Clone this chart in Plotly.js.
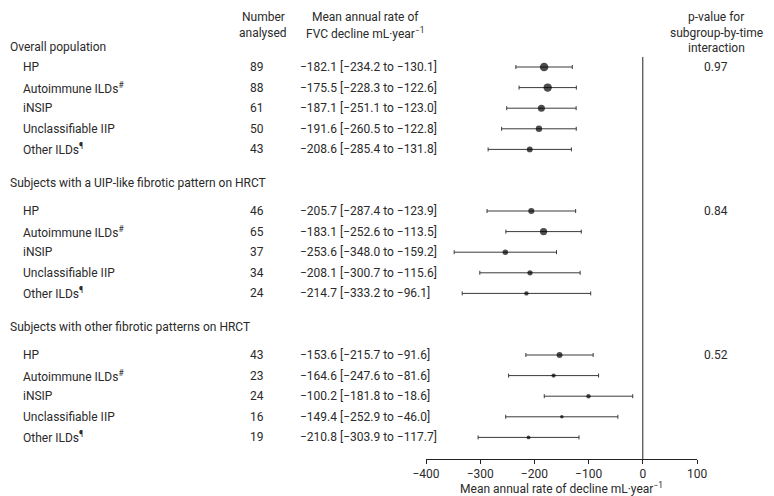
<!DOCTYPE html>
<html>
<head>
<meta charset="utf-8">
<script src="https://cdn.plot.ly/plotly-3.0.1.min.js"></script>
<style>html,body{margin:0;padding:0;background:#fff}#chart{width:774px;height:496px}</style>
</head>
<body>
<div id="chart"></div>
<script>
const groups = ["Overall population", "Subjects with a UIP-like fibrotic pattern on HRCT", "Subjects with other fibrotic patterns on HRCT"];
const subgroups = ["HP", "Autoimmune ILDs<sup>#</sup>", "iNSIP", "Unclassifiable IIP", "Other ILDs<sup>¶</sup>"];
const nAnalysed = [[89, 88, 61, 50, 43], [46, 65, 37, 34, 24], [43, 23, 24, 16, 19]];
const meanRate = [[-182.1, -175.5, -187.1, -191.6, -208.6], [-205.7, -183.1, -253.6, -208.1, -214.7], [-153.6, -164.6, -100.2, -149.4, -210.8]];
const ciLow = [[-234.2, -228.3, -251.1, -260.5, -285.4], [-287.4, -252.6, -348.0, -300.7, -333.2], [-215.7, -247.6, -181.8, -252.9, -303.9]];
const ciHigh = [[-130.1, -122.6, -123.0, -122.8, -131.8], [-123.9, -113.5, -159.2, -115.6, -96.1], [-91.6, -81.6, -18.6, -46.0, -117.7]];
const pValues = ["0.97", "0.84", "0.52"];
const xTicks = [-400, -300, -200, -100, 0, 100];

const W = 774, H = 496;
const TXT = "#2a2a2a";
const FONT = "Roboto, 'Liberation Sans', sans-serif";
const fmt = v => v.toFixed(1).replace("-", "\u2212");
const itemY = (s, i) => 67 + 144 * s + 20.6 * i;
const headY = s => itemY(s, 0) - (s === 0 ? 20 : 28);
const px = x => x / W;

const xs = [], ys = [], ep = [], em = [], sizes = [];
const ann = [];
function txt(x, y, text, align, size) {
  ann.push({xref: "paper", yref: "y", x: px(x), y: y, text: text, showarrow: false,
    xanchor: align, yanchor: "middle", font: {family: FONT, size: size || 12, color: TXT}});
}
groups.forEach((g, s) => {
  txt(8, headY(s), g, "left");
  txt(716, itemY(s, 0), pValues[s], "center");
  subgroups.forEach((sg, i) => {
    const y = itemY(s, i);
    xs.push(meanRate[s][i]); ys.push(y);
    ep.push(ciHigh[s][i] - meanRate[s][i]);
    em.push(meanRate[s][i] - ciLow[s][i]);
    sizes.push(0.9 * Math.sqrt(nAnalysed[s][i]));
    txt(21, y, sg, "left");
    txt(266, y, String(nAnalysed[s][i]), "right");
    txt(298, y, fmt(meanRate[s][i]) + " [" + fmt(ciLow[s][i]) + " to " + fmt(ciHigh[s][i]) + "]", "left");
  });
});
txt(263, 17, "Number", "center");
txt(263, 33, "analysed", "center");
txt(365, 17, "Mean annual rate of", "center");
txt(365, 33, "FVC decline mL\u00b7year<sup>\u22121</sup>", "center");
txt(716, 17, "p-value for", "center");
txt(716, 33, "subgroup-by-time", "center");
txt(716, 48, "interaction", "center");

const trace = {
  type: "scatter", mode: "markers", x: xs, y: ys,
  marker: {color: "#000", size: sizes, line: {width: 0}},
  error_x: {type: "data", symmetric: false, array: ep, arrayminus: em, color: "#3a3a3a", thickness: 1, width: 2},
  hoverinfo: "x", showlegend: false
};

const layout = {
  width: W, height: H, margin: {l: 0, r: 0, t: 0, b: 0},
  paper_bgcolor: "#fff", plot_bgcolor: "rgba(0,0,0,0)",
  xaxis: {domain: [px(426), px(697)], range: [-400, 100], tickvals: xTicks,
    ticktext: xTicks.map(v => String(v).replace("-", "\u2212")),
    showgrid: false, zeroline: false, showline: true, linecolor: "#222", linewidth: 1,
    ticks: "outside", ticklen: 4, tickcolor: "#222",
    tickfont: {family: FONT, size: 12, color: TXT},
    title: {text: "Mean annual rate of decline mL\u00b7year<sup>\u22121</sup>", font: {family: FONT, size: 12, color: TXT}, standoff: 6},
    fixedrange: true},
  yaxis: {domain: [(H - 459) / H, 1], range: [459, 0], visible: false, fixedrange: true},
  shapes: [{type: "line", xref: "x", yref: "y", x0: 0, x1: 0, y0: 57, y1: 459, line: {color: "#222", width: 1}}],
  annotations: ann
};
Plotly.newPlot("chart", [trace], layout, {displayModeBar: false, staticPlot: true});
</script>
</body>
</html>
